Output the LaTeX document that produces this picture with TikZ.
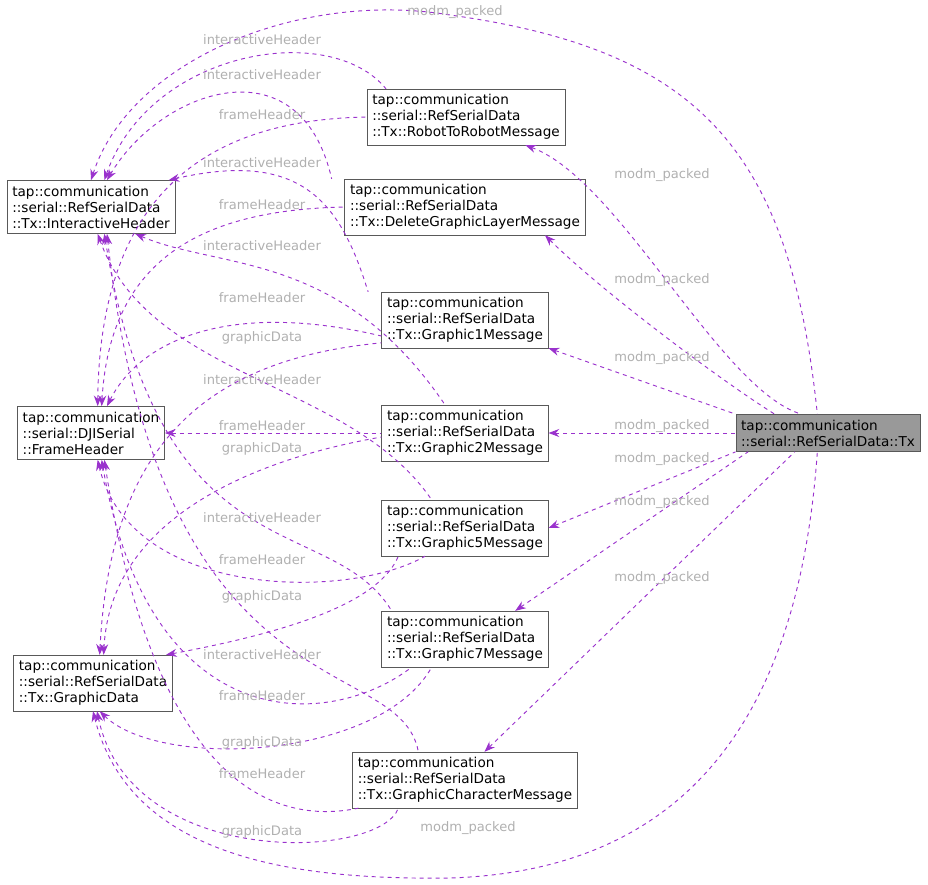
\documentclass[tikz,border=0pt]{standalone}
\usepackage{fontspec}
\setmainfont{DejaVu Sans}
\usetikzlibrary{arrows.meta}
\definecolor{edgecol}{HTML}{9A32CD}
\definecolor{lblcol}{HTML}{B0B0B0}
\tikzset{
  cls/.style={draw=black!65, fill=white, align=left, font=\fontsize{10.2}{12}\selectfont, inner sep=4pt},
  rel/.style={draw=edgecol, dashed, line width=0.7pt, {Stealth[length=8pt,width=6pt]}-},
  lbl/.style={text=lblcol, font=\fontsize{9.8}{11.5}\selectfont}
}
\begin{document}
\begin{tikzpicture}[x=0.75pt,y=-0.75pt]
  \useasboundingbox (0,0) rectangle (928,885);

  % classes
  \node[cls, fill=black!40] (tx) at (828,433) {tap::communication\\::serial::RefSerialData::Tx};
  \node[cls] (ih) at (91,207) {tap::communication\\::serial::RefSerialData\\::Tx::InteractiveHeader};
  \node[cls] (fh) at (91,433) {tap::communication\\::serial::DJISerial\\::FrameHeader};
  \node[cls] (gd) at (93,683) {tap::communication\\::serial::RefSerialData\\::Tx::GraphicData};
  \node[cls] (rtr) at (466,117) {tap::communication\\::serial::RefSerialData\\::Tx::RobotToRobotMessage};
  \node[cls] (dgl) at (465,207) {tap::communication\\::serial::RefSerialData\\::Tx::DeleteGraphicLayerMessage};
  \node[cls] (g1) at (465,320) {tap::communication\\::serial::RefSerialData\\::Tx::Graphic1Message};
  \node[cls] (g2) at (465,433) {tap::communication\\::serial::RefSerialData\\::Tx::Graphic2Message};
  \node[cls] (g5) at (465,528) {tap::communication\\::serial::RefSerialData\\::Tx::Graphic5Message};
  \node[cls] (g7) at (465,639) {tap::communication\\::serial::RefSerialData\\::Tx::Graphic7Message};
  \node[cls] (gcm) at (465,780) {tap::communication\\::serial::RefSerialData\\::Tx::GraphicCharacterMessage};

  % modm_packed
  \draw[rel] (ih.north) .. controls (130,60) and (300,-10) .. (450,15) .. controls (700,50) and (790,150) .. ([xshift=-8]tx.north);
  \draw[rel] ([xshift=-30]rtr.south east) .. controls (620,180) and (720,390) .. ([xshift=-20]tx.north);
  \draw[rel] ([xshift=60]dgl.south) .. controls (600,290) and (720,380) .. ([xshift=-40]tx.north);
  \draw[rel] (g1.south east) -- (tx.north west);
  \draw[rel] (g2.east) -- (tx.west);
  \draw[rel] (g5.east) -- (tx.south west);
  \draw[rel] ([xshift=-25]g7.north east) -- ([xshift=-60]tx.south);
  \draw[rel] ([xshift=-70]gcm.north east) -- ([xshift=-25]tx.south);
  \draw[rel] (gd.south) .. controls (130,860) and (300,880) .. (450,878) .. controls (700,870) and (800,700) .. ([xshift=-8]tx.south);
  \node[lbl] (l1) at (455,12) {modm\_packed};
  \node[lbl] (l2) at (662,175) {modm\_packed};
  \node[lbl] (l3) at (662,280) {modm\_packed};
  \node[lbl] (l4) at (662,358) {modm\_packed};
  \node[lbl] (l5) at (662,426) {modm\_packed};
  \node[lbl] (l6) at (662,459) {modm\_packed};
  \node[lbl] (l7) at (662,502) {modm\_packed};
  \node[lbl] (l8) at (662,578) {modm\_packed};
  \node[lbl] (l9) at (468,828) {modm\_packed};

  % interactiveHeader
  \draw[rel] ([xshift=10]ih.north) .. controls (150,50) and (330,20) .. ([xshift=-60]rtr.north);
  \draw[rel] ([xshift=12]ih.north) .. controls (160,90) and (300,40) .. ([xshift=-100]dgl.north);
  \draw[rel] ([xshift=-5]ih.north east) .. controls (300,150) and (340,200) .. ([xshift=-10]g1.north west);
  \draw[rel] ([xshift=-30]ih.south east) .. controls (220,270) and (340,250) .. ([xshift=-15]g2.north);
  \draw[rel] ([xshift=5]ih.south) .. controls (150,380) and (350,380) .. ([xshift=-25]g5.north);
  \draw[rel] ([xshift=10]ih.south) .. controls (160,580) and (330,510) .. ([xshift=-55]g7.north);
  \draw[rel] ([xshift=12]ih.south) .. controls (160,720) and (400,650) .. ([xshift=-35]gcm.north);
  \node[lbl] (m1) at (262,40) {interactiveHeader};
  \node[lbl] (m2) at (262,75) {interactiveHeader};
  \node[lbl] (m3) at (262,163) {interactiveHeader};
  \node[lbl] (m4) at (262,246) {interactiveHeader};
  \node[lbl] (m5) at (262,380) {interactiveHeader};
  \node[lbl] (m6) at (262,518) {interactiveHeader};
  \node[lbl] (m7) at (262,655) {interactiveHeader};

  % frameHeader
  \draw[rel] ([xshift=5]fh.north) .. controls (100,200) and (200,120) .. (rtr.west);
  \draw[rel] ([xshift=8]fh.north) .. controls (110,260) and (200,210) .. (dgl.west);
  \draw[rel] ([xshift=12]fh.north) .. controls (140,340) and (230,300) .. ([yshift=-12]g1.west);
  \draw[rel] (fh.east) -- (g2.west);
  \draw[rel] ([xshift=5]fh.south) .. controls (130,600) and (350,600) .. ([xshift=-30]g5.south);
  \draw[rel] ([xshift=8]fh.south) .. controls (150,740) and (330,730) .. ([xshift=-40]g7.south);
  \draw[rel] ([xshift=10]fh.south) .. controls (160,820) and (300,820) .. ([xshift=-80]gcm.south);
  \node[lbl] (n1) at (262,115) {frameHeader};
  \node[lbl] (n2) at (262,205) {frameHeader};
  \node[lbl] (n3) at (262,298) {frameHeader};
  \node[lbl] (n4) at (262,426) {frameHeader};
  \node[lbl] (n5) at (262,560) {frameHeader};
  \node[lbl] (n6) at (262,696) {frameHeader};
  \node[lbl] (n7) at (262,774) {frameHeader};

  % graphicData
  \draw[rel] ([xshift=5]gd.north) .. controls (110,450) and (200,360) .. ([yshift=4]g1.south west);
  \draw[rel] ([xshift=8]gd.north) .. controls (110,520) and (250,460) .. ([yshift=-3]g2.west);
  \draw[rel] ([xshift=-5]gd.north east) .. controls (300,630) and (380,600) .. ([xshift=-50]g5.south);
  \draw[rel] ([xshift=5]gd.south) .. controls (160,770) and (380,760) .. ([xshift=-25]g7.south);
  \draw[rel] ([xshift=3]gd.south) .. controls (130,870) and (380,860) .. ([xshift=-50]gcm.south);
  \node[lbl] (o1) at (262,338) {graphicData};
  \node[lbl] (o2) at (262,449) {graphicData};
  \node[lbl] (o3) at (262,597) {graphicData};
  \node[lbl] (o4) at (262,743) {graphicData};
  \node[lbl] (o5) at (262,832) {graphicData};
\end{tikzpicture}
\end{document}
